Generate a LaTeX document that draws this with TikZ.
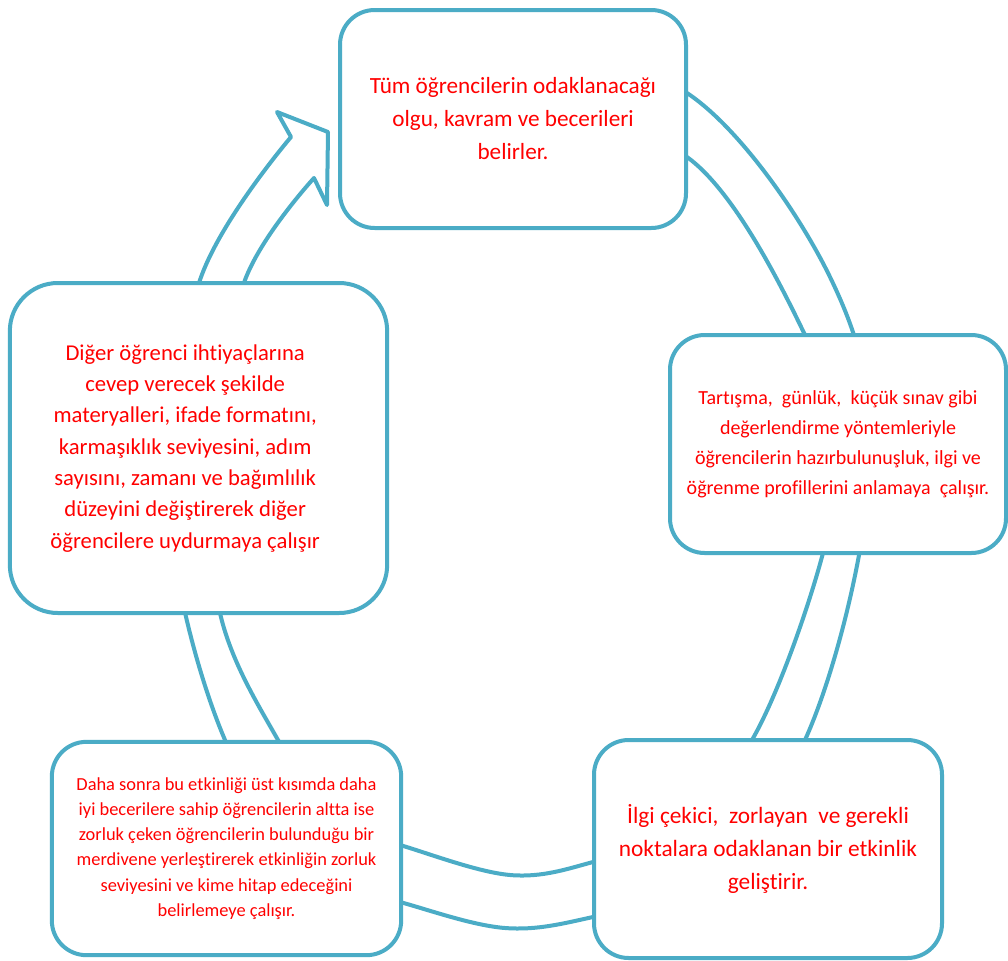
\documentclass[tikz,border=0pt]{standalone}
\usepackage{fontspec}
\setmainfont{Carlito}[Ligatures={NoCommon}]
\usepackage{xcolor}
\usepackage{tikz}
\definecolor{ringblue}{HTML}{4BACC6}
\definecolor{txtred}{HTML}{FF0000}

\begin{document}
\begin{tikzpicture}[x=0.75pt, y=-0.75pt,
  stepbox/.style={draw=ringblue, line width=3pt, fill=white, rounded corners=26pt, align=center, text=txtred, inner sep=0pt},
  ring/.style={draw=ringblue, line width=3pt, fill=white, line join=round}]
\useasboundingbox[fill=white] (0,0) rectangle (1008,961);
\coordinate [] (N1) at (291,137);
\coordinate [] (B1) at (277,112);
\coordinate [] (T) at (328,132);
\coordinate [] (B2) at (327,205);
\coordinate [] (N2) at (314,178);
\draw[ring] plot[smooth, tension=0.6] coordinates {(520,72) (687,93) (830,277) (870,470) (805,740) (680,890) (593,917) (505,928) (400,902) (330,880) (225,740) (168,500) (200,280) (N1)} -- (B1) -- (T) -- (B2) -- (N2) -- plot[smooth, tension=0.6] coordinates {(N2) (245,280) (212,450) (220,613) (278,740) (340,825) (400,845) (510,875) (593,862) (660,835) (752,740) (823,553) (828,450) (805,335) (687,157) (520,130)} -- cycle;
\node[stepbox, minimum width=259.5pt, minimum height=163.5pt, font=\fontsize{17.4pt}{24.75pt}\selectfont] (olgu) at (513,119) {Tüm öğrencilerin odaklanacağı\\olgu, kavram ve becerileri\\belirler.};
\node[stepbox, minimum width=252pt, minimum height=163.5pt, font=\fontsize{15pt}{22.5pt}\selectfont] (tani) at (838,444) {\rule{0pt}{8pt}Tartışma, \ günlük, \ küçük sınav gibi\\değerlendirme yöntemleriyle\\öğrencilerin hazırbulunuşluk, ilgi ve\\öğrenme profillerini anlamaya \ çalışır.};
\node[stepbox, minimum width=261pt, minimum height=163.5pt, font=\fontsize{17.5pt}{24.4pt}\selectfont] (etkinlik) at (768,849) {İlgi çekici, \ zorlayan \ ve gerekli\\noktalara odaklanan bir etkinlik\\geliştirir.};
\node[stepbox, minimum width=262pt, minimum height=160pt, font=\fontsize{13.8pt}{18.9pt}\selectfont] (merdiven) at (226.5,848.5) {\rule{0pt}{9pt}Daha sonra bu etkinliği üst kısımda daha\\iyi becerilere sahip öğrencilerin altta ise\\zorluk çeken öğrencilerin bulunduğu bir\\merdivene yerleştirerek etkinliğin zorluk\\seviyesini ve kime hitap edeceğini\\belirlemeye çalışır.};
\node[stepbox, rounded corners=36pt, minimum width=283pt, minimum height=247.5pt, font=\fontsize{17pt}{23.5pt}\selectfont] (uyarla) at (198.5,448) {\begin{tabular}{@{}c@{\hspace{20pt}}}Diğer öğrenci ihtiyaçlarına\\cevep verecek şekilde\\materyalleri, ifade formatını,\\karmaşıklık seviyesini, adım\\sayısını, zamanı ve bağımlılık\\düzeyini değiştirerek diğer\\öğrencilere uydurmaya çalışır\end{tabular}};
\end{tikzpicture}
\end{document}
